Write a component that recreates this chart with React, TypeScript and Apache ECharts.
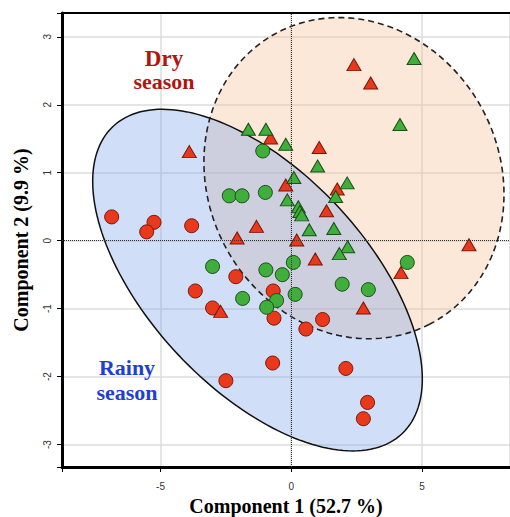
import React, { useEffect, useRef } from 'react';
import * as echarts from 'echarts';

// Sample scores (Component 1, Component 2)
const redCircles: number[][] = [
  [-6.87, 0.35], [-5.25, 0.27], [-5.53, 0.13], [-3.81, 0.22], [-3.67, -0.74],
  [-3.01, -0.99], [-2.12, -0.53], [-0.69, -0.74], [-0.66, -1.14], [0.56, -1.3],
  [1.2, -1.16], [-0.71, -1.8], [2.09, -1.88], [2.92, -2.38], [2.76, -2.62],
  [-2.5, -2.06],
];
const greenCircles: number[][] = [
  [-1.09, 1.32], [-2.37, 0.66], [-1.88, 0.66], [-0.99, 0.71], [-3.01, -0.38],
  [-0.97, -0.43], [-0.34, -0.5], [0.08, -0.32], [-1.86, -0.85], [-0.56, -0.88],
  [-0.94, -0.98], [0.15, -0.79], [4.44, -0.32], [1.95, -0.64], [2.95, -0.72],
];
const redTriangles: number[][] = [
  [-3.9, 1.31], [-2.07, 0.04], [-1.33, 0.21], [2.4, 2.59], [3.04, 2.32],
  [-0.79, 1.51], [1.07, 1.37], [-0.21, 0.82], [1.76, 0.76], [1.35, 0.44],
  [0.21, 0.01], [6.8, -0.06], [-2.7, -1.04], [0.92, -0.27], [2.76, -0.99],
  [4.2, -0.47],
];
const greenTriangles: number[][] = [
  [-1.64, 1.64], [-0.97, 1.64], [-0.21, 1.42], [0.1, 0.93], [-0.15, 0.6],
  [0.27, 0.5], [0.33, 0.43], [0.4, 0.38], [0.69, 0.16], [1.01, 1.1],
  [4.7, 2.68], [4.16, 1.71], [2.14, 0.85], [1.7, 0.65], [1.63, 0.18],
  [2.16, -0.09], [1.84, -0.19],
];

// Confidence ellipses: center and two conjugate semi-axis vectors (data units)
const rainyCenter = [-1.29, -0.58];
const rainyU = [5.53, -2.26];
const rainyV = [-3.03, -1.1];
const dryCenter = [2.4, 0.92];
const dryU = [2.89, -2.15];
const dryV = [-4.96, -0.98];

const xRange = [-8.77, 8.37];
const yRange = [-3.33, 3.35];

const xTitle = 'Component 1 (52.7 %)';
const yTitle = 'Component 2 (9.9 %)';

function ellipseSeries(center: number[], u: number[], v: number[], style: any) {
  return {
    type: 'custom',
    coordinateSystem: 'cartesian2d',
    silent: true,
    clip: true,
    data: [center],
    renderItem: (_params: any, api: any) => {
      const cx = api.value(0);
      const cy = api.value(1);
      const pts: number[][] = [];
      const n = 180;
      for (let i = 0; i < n; i++) {
        const t = (i / n) * Math.PI * 2;
        pts.push(
          api.coord([
            cx + u[0] * Math.cos(t) + v[0] * Math.sin(t),
            cy + u[1] * Math.cos(t) + v[1] * Math.sin(t),
          ])
        );
      }
      return { type: 'polygon', shape: { points: pts }, style };
    },
  };
}

const serif = '"Liberation Serif", "DejaVu Serif", serif';

export default function App() {
  const ref = useRef<HTMLDivElement>(null);
  useEffect(() => {
    if (!ref.current) return;
    const chart = echarts.init(ref.current, undefined, { renderer: 'svg' });
    const red = '#e8391d';
    const redEdge = '#7a1608';
    const green = '#3fae3a';
    const greenEdge = '#1b4d18';
    const option: any = {
      animation: false,
      backgroundColor: '#ffffff',
      grid: { left: 62, right: 0, top: 13, bottom: 50, containLabel: false, outerBoundsMode: 'none' },
      xAxis: [
        {
          type: 'value',
          min: xRange[0],
          max: xRange[1],
          splitNumber: 3,
          name: xTitle,
          nameLocation: 'middle',
          nameGap: 24,
          nameTextStyle: { fontFamily: serif, fontWeight: 'bold', fontSize: 20, color: '#000' },
          axisLine: { show: true, onZero: false, lineStyle: { color: '#000', width: 3 } },
          axisTick: { show: true, length: 5, lineStyle: { color: '#000', width: 1 } },
          axisLabel: {
            color: '#333',
            fontSize: 10,
            fontFamily: '"Liberation Sans", Arial, sans-serif',
            margin: 14,
            formatter: (val: number) => (Math.abs(val % 5) < 1e-9 ? String(val) : ''),
          },
          splitLine: { show: true, lineStyle: { color: '#dcdcdc', width: 1.5 } },
        },
        {
          type: 'value',
          position: 'top',
          min: xRange[0],
          max: xRange[1],
          axisLine: { show: true, onZero: false, lineStyle: { color: '#000', width: 2 } },
          axisTick: { show: false },
          axisLabel: { show: false },
          splitLine: { show: false },
        },
      ],
      yAxis: {
        type: 'value',
        min: yRange[0],
        max: yRange[1],
        splitNumber: 6,
        name: yTitle,
        nameLocation: 'middle',
        nameGap: 31,
        nameTextStyle: { fontFamily: serif, fontWeight: 'bold', fontSize: 20, color: '#000' },
        axisLine: { show: true, onZero: false, lineStyle: { color: '#000', width: 3 } },
        axisTick: { show: true, length: 5, lineStyle: { color: '#000', width: 1 } },
        axisLabel: {
          color: '#333',
          fontSize: 10,
          rotate: 90,
          fontFamily: '"Liberation Sans", Arial, sans-serif',
          margin: 10,
          formatter: (val: number) => (Math.abs(val - Math.round(val)) < 1e-9 ? String(Math.round(val)) : ''),
        },
        splitLine: { show: true, lineStyle: { color: '#dcdcdc', width: 1.5 } },
      },
      graphic: [
        {
          type: 'text', x: 164, y: 58, z: 100,
          style: { text: 'Dry', fill: '#b0160f', font: `bold 23px ${serif}`, textAlign: 'center', textVerticalAlign: 'middle' },
        },
        {
          type: 'text', x: 164, y: 81, z: 100,
          style: { text: 'season', fill: '#b0160f', font: `bold 22px ${serif}`, textAlign: 'center', textVerticalAlign: 'middle' },
        },
        {
          type: 'text', x: 127, y: 367, z: 100,
          style: { text: 'Rainy', fill: '#1d3fd6', font: `bold 22px ${serif}`, textAlign: 'center', textVerticalAlign: 'middle' },
        },
        {
          type: 'text', x: 127, y: 392, z: 100,
          style: { text: 'season', fill: '#1d3fd6', font: `bold 22px ${serif}`, textAlign: 'center', textVerticalAlign: 'middle' },
        },
      ],
      series: [
        ellipseSeries(dryCenter, dryU, dryV, { fill: 'rgba(245,190,150,0.36)', stroke: 'none' }),
        ellipseSeries(rainyCenter, rainyU, rainyV, { fill: 'rgba(120,160,235,0.35)', stroke: '#111', lineWidth: 1.5 }),
        ellipseSeries(dryCenter, dryU, dryV, { fill: 'none', stroke: '#222', lineWidth: 1.6, lineDash: [6, 4] }),
        {
          type: 'scatter',
          data: redCircles,
          symbol: 'circle',
          symbolSize: 14,
          itemStyle: { color: red, borderColor: redEdge, borderWidth: 1, opacity: 1 },
          markLine: {
            silent: true,
            symbol: ['none', 'none'],
            label: { show: false },
            lineStyle: { type: 'dotted', color: '#333', width: 1 },
            data: [{ xAxis: 0 }, { yAxis: 0 }],
          },
        },
        {
          type: 'scatter',
          data: greenCircles,
          symbol: 'circle',
          symbolSize: 14,
          itemStyle: { color: green, borderColor: greenEdge, borderWidth: 1, opacity: 1 },
        },
        {
          type: 'scatter',
          data: redTriangles,
          symbol: 'triangle',
          symbolSize: [14, 12],
          itemStyle: { color: red, borderColor: redEdge, borderWidth: 1, opacity: 1 },
        },
        {
          type: 'scatter',
          data: greenTriangles,
          symbol: 'triangle',
          symbolSize: [14, 12],
          itemStyle: { color: green, borderColor: greenEdge, borderWidth: 1, opacity: 1 },
        },
      ],
    };
    chart.setOption(option);
    return () => chart.dispose();
  }, []);
  return (
    <div
      ref={ref}
      style={{ position: 'absolute', left: 0, top: 0, width: 510, height: 517 }}
    />
  );
}
